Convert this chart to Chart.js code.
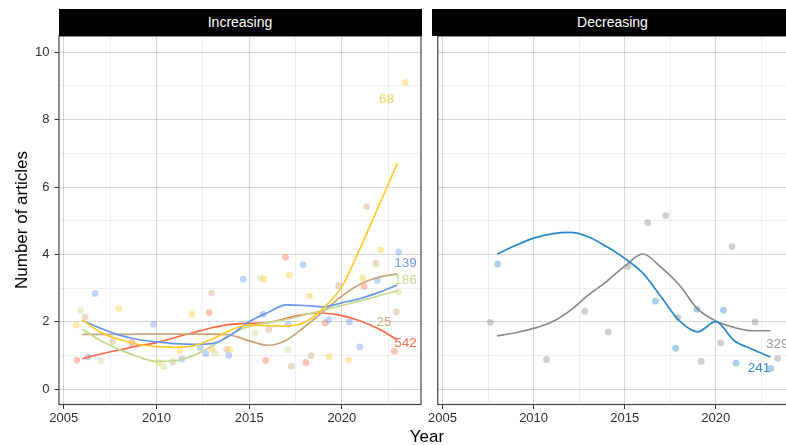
<!DOCTYPE html>
<html>
<head>
<meta charset="utf-8">
<script src="https://cdn.jsdelivr.net/npm/chart.js@4.4.1/dist/chart.umd.min.js"></script>
<style>
  html, body { margin: 0; padding: 0; background: #fff; }
  #wrap { position: relative; width: 786px; height: 445px; overflow: hidden;
          font-family: "Liberation Sans", Arial, sans-serif; }
  canvas { position: absolute; top: 0; }
  .strip { position: absolute; top: 9px; height: 27px; line-height: 27px; background: #000;
           color: #fff; font-size: 14px; text-align: center; }
  .ytitle { position: absolute; left: 22px; top: 220px; font-size: 17px; color: #000;
            white-space: nowrap; transform: translate(-50%, -50%) rotate(-90deg); }
  .xtitle { position: absolute; left: 427px; top: 428px; font-size: 17px; line-height: 17px;
            color: #000; transform: translateX(-50%); }
</style>
</head>
<body>
<div id="wrap">
  <canvas id="inc" width="426" height="445" style="left:0;width:426px;height:445px"></canvas>
  <canvas id="dec" width="374" height="445" style="left:426px;width:374px;height:445px"></canvas>
  <div class="strip" style="left:58.5px;width:363px">Increasing</div>
  <div class="strip" style="left:431.5px;width:362px">Decreasing</div>
  <div class="ytitle">Number of articles</div>
  <div class="xtitle">Year</div>
</div>
<script>
// ================= DATA =================
// smoothed trend per topic, one value per year
const incYears = [2006, 2007, 2008, 2009, 2010, 2011, 2012, 2013, 2014, 2015, 2016, 2017, 2018, 2019, 2020, 2021, 2022, 2023];
const trend68  = [2.05, 1.68, 1.47, 1.33, 1.26, 1.24, 1.28, 1.48, 1.75, 1.90, 1.88, 1.87, 1.98, 2.40, 3.04, 4.20, 5.45, 6.70];
const trend139 = [2.03, 1.80, 1.60, 1.47, 1.40, 1.35, 1.33, 1.35, 1.60, 2.00, 2.27, 2.50, 2.48, 2.44, 2.56, 2.69, 2.87, 3.09];
const trend186 = [1.77, 1.43, 1.17, 0.96, 0.82, 0.84, 1.00, 1.28, 1.62, 1.86, 1.97, 2.07, 2.20, 2.34, 2.48, 2.62, 2.77, 2.92];
const trend25  = [1.62, 1.62, 1.62, 1.63, 1.63, 1.63, 1.63, 1.63, 1.60, 1.43, 1.30, 1.45, 1.85, 2.30, 2.76, 3.12, 3.32, 3.42];
const trend542 = [0.90, 1.04, 1.16, 1.28, 1.38, 1.53, 1.68, 1.82, 1.92, 1.95, 1.97, 2.10, 2.22, 2.25, 2.18, 2.02, 1.78, 1.46];

const decYears = [2008, 2009, 2010, 2011, 2012, 2013, 2014, 2015, 2016, 2017, 2018, 2019, 2020, 2021, 2022, 2023];
const trend241 = [4.01, 4.26, 4.48, 4.61, 4.65, 4.52, 4.23, 3.88, 3.44, 2.74, 2.03, 1.70, 2.00, 1.44, 1.18, 0.95];
const trend329 = [1.58, 1.67, 1.80, 1.99, 2.33, 2.79, 3.19, 3.65, 4.01, 3.61, 3.09, 2.38, 2.02, 1.83, 1.73, 1.73];

// yearly counts (jittered year, articles)
const pts68 = [[2005.67, 1.90], [2007.97, 2.39], [2010.13, 0.79], [2011.26, 1.14], [2011.91, 2.23], [2012.99, 1.19],
  [2013.96, 1.18], [2015.81, 3.26], [2017.16, 3.38], [2018.26, 2.76], [2019.32, 0.96], [2020.35, 0.86],
  [2021.12, 3.30], [2022.09, 4.13], [2023.42, 9.11]];
const pts139 = [[2006.30, 0.95], [2006.69, 2.84], [2009.84, 1.92], [2011.37, 0.89], [2012.36, 1.23], [2012.66, 1.05],
  [2013.90, 1.00], [2014.68, 3.26], [2015.76, 2.22], [2017.10, 1.93], [2017.91, 3.69], [2019.29, 2.05],
  [2020.40, 1.99], [2020.97, 1.25], [2021.91, 3.23], [2023.06, 4.07]];
const pts186 = [[2005.90, 2.33], [2007.00, 0.83], [2010.40, 0.66], [2013.17, 1.06], [2015.32, 1.67], [2015.61, 3.30],
  [2017.10, 1.16], [2023.06, 2.88]];
const pts25 = [[2006.15, 2.14], [2007.64, 1.41], [2010.87, 0.81], [2012.97, 2.85], [2013.78, 1.18], [2016.06, 1.77],
  [2017.27, 0.67], [2018.33, 0.99], [2019.82, 3.07], [2021.33, 5.41], [2021.84, 3.73], [2022.95, 2.29]];
const pts542 = [[2005.70, 0.86], [2008.67, 1.38], [2012.84, 2.27], [2015.90, 0.85], [2016.96, 3.91], [2018.06, 0.79],
  [2019.10, 1.96], [2021.20, 3.05], [2022.83, 1.12]];
const pts241 = [[2008.02, 3.71], [2016.69, 2.61], [2017.80, 1.21], [2018.96, 2.37], [2020.42, 2.34], [2021.12, 0.77],
  [2023.02, 0.61]];
const pts329 = [[2007.62, 1.98], [2010.71, 0.88], [2012.81, 2.31], [2014.10, 1.69], [2015.18, 3.63], [2016.27, 4.94],
  [2017.26, 5.15], [2017.92, 2.13], [2019.20, 0.82], [2020.27, 1.37], [2020.89, 4.23], [2022.16, 1.99],
  [2023.40, 0.91]];

// topic labels at the line ends
const incLabels = ["68", "139", "186", "25", "542"];
const incLabelX = [2022.41, 2023.44, 2023.44, 2022.27, 2023.44];
const incLabelY = [8.61, 3.73, 3.24, 1.98, 1.36];
const decLabels = ["241", "329"];
const decLabelX = [2022.37, 2023.38];
const decLabelY = [0.61, 1.34];

// axes
const xTicks = [2005, 2007.5, 2010, 2012.5, 2015, 2017.5, 2020, 2022.5];
const yTicks = [0, 1, 2, 3, 4, 5, 6, 7, 8, 9, 10];

// ================= STYLE =================
const colors = {
  "68": "#FFCB2E", "139": "#6A97E8", "186": "#C4DA8E", "25": "#C9A479",
  "542": "#FF6A45", "241": "#2A88C8", "329": "#8A8A8A"
};
const labelColors = {
  "68": "#F6D25C", "139": "#6F9BE8", "186": "#C6DB98", "25": "#CFAE85",
  "542": "#FF7052", "241": "#2F8BCB", "329": "#999999"
};

Chart.defaults.font.family = "'Liberation Sans', Arial, sans-serif";
Chart.defaults.color = "#303030";

const panelBox = {
  id: "panelBox",
  afterDraw(chart) {
    const { ctx, chartArea: a } = chart;
    ctx.save();
    ctx.strokeStyle = "#444";
    ctx.lineWidth = 1.2;
    ctx.strokeRect(a.left, a.top, a.right - a.left, a.bottom - a.top);
    ctx.restore();
  }
};

const endLabels = {
  id: "endLabels",
  afterDatasetsDraw(chart, args, opts) {
    const { ctx, scales } = chart;
    ctx.save();
    ctx.font = "13.5px 'Liberation Sans', Arial, sans-serif";
    ctx.textAlign = "center";
    ctx.textBaseline = "middle";
    opts.text.forEach((t, i) => {
      ctx.fillStyle = labelColors[t];
      ctx.fillText(t, scales.x.getPixelForValue(opts.x[i]), scales.y.getPixelForValue(opts.y[i]));
    });
    ctx.restore();
  }
};

function buildDatasets(series) {
  const ds = [];
  series.forEach(s => {
    ds.push({
      data: s.years.map((yr, i) => ({ x: yr, y: s.vals[i] })),
      showLine: true, borderColor: colors[s.name], borderWidth: 1.7,
      pointRadius: 0, cubicInterpolationMode: "monotone", order: 0
    });
    ds.push({
      data: s.pts.map(p => ({ x: p[0], y: p[1] })),
      backgroundColor: colors[s.name] + "66", borderWidth: 0,
      pointRadius: 3.4, order: 1
    });
  });
  return ds;
}

function makePanel(id, series, labels, showY, pad) {
  return new Chart(document.getElementById(id), {
    type: "scatter",
    data: { datasets: buildDatasets(series) },
    plugins: [panelBox, endLabels],
    options: {
      responsive: false,
      animation: false,
      layout: { padding: pad },
      plugins: { legend: { display: false }, tooltip: { enabled: false }, endLabels: labels },
      scales: {
        x: {
          type: "linear", min: 2004.74, max: 2024.27,
          afterBuildTicks: s => { s.ticks = xTicks.map(v => ({ value: v })); },
          afterFit: s => { s.height = 40.5; },
          border: { display: false },
          grid: {
            color: c => c.tick.value % 5 === 0 ? "rgba(0,0,0,0.2)" : "rgba(0,0,0,0.08)",
            tickColor: c => c.tick.value % 5 === 0 ? "#333" : "rgba(0,0,0,0)",
            lineWidth: 0.8, tickWidth: 1, tickLength: 4.5
          },
          ticks: {
            autoSkip: false, maxRotation: 0, padding: 2, font: { size: 13 },
            callback: v => v % 5 === 0 ? String(v) : ""
          }
        },
        y: {
          type: "linear", min: -0.46, max: 10.485,
          afterBuildTicks: s => { s.ticks = yTicks.map(v => ({ value: v })); },
          afterFit: s => { s.width = showY ? 59 : 0; },
          border: { display: false },
          grid: {
            color: c => c.tick.value % 2 === 0 ? "rgba(0,0,0,0.2)" : "rgba(0,0,0,0.08)",
            tickColor: c => c.tick.value % 2 === 0 ? "#333" : "rgba(0,0,0,0)",
            lineWidth: 0.8, tickWidth: 1, tickLength: 4.5, drawTicks: showY
          },
          ticks: {
            display: showY, autoSkip: false, padding: 5, font: { size: 13 },
            callback: v => v % 2 === 0 ? String(v) : ""
          }
        }
      }
    }
  });
}

makePanel("inc", [
  { name: "68",  years: incYears, vals: trend68,  pts: pts68 },
  { name: "139", years: incYears, vals: trend139, pts: pts139 },
  { name: "186", years: incYears, vals: trend186, pts: pts186 },
  { name: "25",  years: incYears, vals: trend25,  pts: pts25 },
  { name: "542", years: incYears, vals: trend542, pts: pts542 }
], { text: incLabels, x: incLabelX, y: incLabelY }, true, { top: 36, right: 5, left: 0, bottom: 0 });

makePanel("dec", [
  { name: "241", years: decYears, vals: trend241, pts: pts241 },
  { name: "329", years: decYears, vals: trend329, pts: pts329 }
], { text: decLabels, x: decLabelX, y: decLabelY }, false, { top: 36, right: 6.5, left: 5.5, bottom: 0 });
</script>
</body>
</html>
